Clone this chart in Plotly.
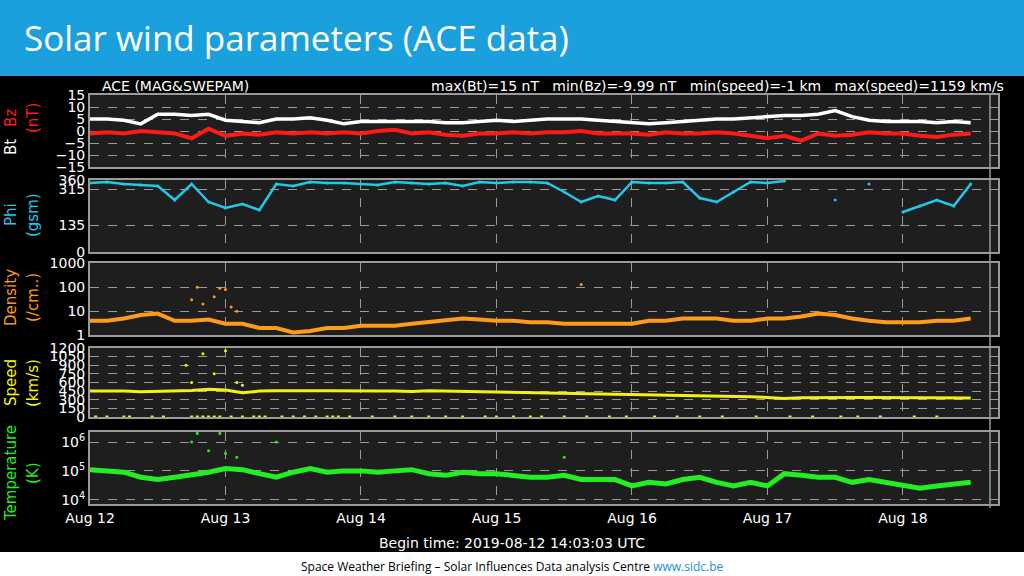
import pandas as pd
import plotly.graph_objects as go
from plotly.subplots import make_subplots

# 3-hourly samples, Aug 12 00:00 -> Aug 18 12:00
times = pd.date_range("2019-08-12 00:00", "2019-08-18 12:00", freq="3h")

bt = [5, 5, 4.5, 3, 7, 7, 6.5, 7, 4.5, 4, 3.5, 5, 5, 5.5, 4.5, 3, 4, 4, 4, 4, 4, 3.5, 3.5, 4,
      4.5, 4, 4.5, 5, 5, 5, 4.5, 4, 3.5, 3, 3.5, 4, 4.5, 5, 5, 5.5, 6, 6.5, 6.5, 7, 8.5, 6,
      4.5, 4, 4, 4, 3.5, 4, 3.5]
bz = [-1, -0.5, -1, 0, -0.5, -1, -3, 1, -2, -1, -1.5, -0.5, -1, -0.5, -1, -0.5, -1, 0, 0.5,
      -1, -0.5, -1.5, -2, -1, -1, -0.5, -1, -0.5, -0.5, 0, -1, -1, -1, -1.5, -0.5, -1, -1,
      -0.5, -1, -2, -3, -2, -4, -1, -2, -1.5, -0.5, -1, -1, -2, -2.5, -1.5, -1]
phi = [345, 350, 340, 335, 330, 260, 340, 250, 220, 240, 210, 340, 330, 350, 345, 345, 340,
       335, 350, 345, 340, 345, 330, 350, 345, 350, 350, 345, 300, 250, 280, 260, 350, 345,
       345, 350, 270, 250, 300, 350, 345, 355, None, None, 260, None, 340, None, 200, 230,
       260, 230, 340]
density = [4, 4, 5, 7, 8, 4, 4, 4.5, 3, 3, 2, 2, 1.3, 1.5, 2, 2, 2.5, 2.5, 2.5, 3, 3.5, 4, 5,
           4.5, 4, 4, 3.5, 3.5, 3, 3, 3, 3, 3, 4, 4, 5, 5, 5, 4, 4, 5, 5, 6, 8, 7, 5, 4, 3.5,
           3.5, 3.5, 4, 4, 5]
speed = [450, 455, 450, 440, 445, 450, 460, 480, 470, 420, 450, 455, 450, 455, 455, 450, 445,
         450, 450, 445, 455, 450, 440, 430, 430, 425, 420, 415, 410, 410, 400, 395, 395, 390,
         380, 370, 365, 360, 355, 350, 340, 320, 335, 340, 345, 340, 340, 340, 340, 335, 335,
         330, 330]
temperature = [1.1e5, 1.0e5, 9e4, 6e4, 5e4, 6e4, 7e4, 9e4, 1.2e5, 1.1e5, 8e4, 6e4, 9e4, 1.2e5,
               9e4, 1.0e5, 1.0e5, 9e4, 1.0e5, 1.1e5, 8e4, 7e4, 9e4, 8e4, 8e4, 7e4, 6e4, 6e4,
               7e4, 5e4, 5e4, 5e4, 3e4, 4e4, 3.5e4, 5e4, 6e4, 4e4, 3e4, 4e4, 3e4, 8e4, 7e4,
               6e4, 6e4, 4e4, 5e4, 4e4, 3e4, 2.5e4, 3e4, 3.5e4, 4e4]

# scattered outliers (hours after Aug 12 00:00)
dens_out_h = [18, 19, 20, 22, 23, 24, 25, 26, 87]
dens_out_v = [30, 100, 20, 40, 90, 80, 15, 10, 130]
speed_out_h = [17, 18, 20, 22, 24, 26, 27]
speed_out_v = [900, 600, 1100, 750, 1150, 600, 550]
speed_zero_h = [1, 3, 6, 7, 11, 13, 18, 19, 20, 21, 22, 23, 25, 27, 29, 30, 31, 34, 36, 38, 40,
                42, 43, 44, 46, 50, 54, 57, 60, 63, 66, 70, 72, 75, 78, 80, 84, 88, 92, 95, 100,
                104, 108, 112, 118, 124, 128, 133, 136, 140, 146, 150]
temp_out_h = [18, 19, 21, 23, 24, 26, 33, 84]
temp_out_v = [1e6, 2e6, 5e5, 2e6, 4e5, 3e5, 1e6, 3e5]

t0 = pd.Timestamp("2019-08-12")
def hrs(h):
    return [t0 + pd.Timedelta(hours=x) for x in h]

fig = make_subplots(rows=5, cols=1, shared_xaxes=True)
mk = dict(size=3)
fig.add_trace(go.Scatter(x=times, y=bt, mode="lines", line=dict(color="white", width=3.5)), 1, 1)
fig.add_trace(go.Scatter(x=times, y=bz, mode="lines", line=dict(color="#ff1a1a", width=4)), 1, 1)
fig.add_trace(go.Scatter(x=times, y=phi, mode="lines+markers", line=dict(color="#22c8e8", width=2.5),
                         marker=dict(size=3, color="#22c8e8"), connectgaps=False), 2, 1)
fig.add_trace(go.Scatter(x=times, y=density, mode="lines", line=dict(color="#ff9a1a", width=4)), 3, 1)
fig.add_trace(go.Scatter(x=hrs(dens_out_h), y=dens_out_v, mode="markers", marker=dict(mk, color="#ff9a1a")), 3, 1)
fig.add_trace(go.Scatter(x=times, y=speed, mode="lines", line=dict(color="#f2f21a", width=3)), 4, 1)
fig.add_trace(go.Scatter(x=hrs(speed_out_h), y=speed_out_v, mode="markers", marker=dict(mk, color="#f2f21a")), 4, 1)
fig.add_trace(go.Scatter(x=hrs(speed_zero_h), y=[0] * len(speed_zero_h), mode="markers",
                         marker=dict(size=3, symbol="square", color="#f2f21a")), 4, 1)
fig.add_trace(go.Scatter(x=times, y=temperature, mode="lines", line=dict(color="#22ee22", width=5)), 5, 1)
fig.add_trace(go.Scatter(x=hrs(temp_out_h), y=temp_out_v, mode="markers", marker=dict(mk, color="#22ee22")), 5, 1)

font = "DejaVu Sans"
axis_style = dict(showgrid=True, gridcolor="#9a9a9a", griddash="dash", gridwidth=1, automargin=False,
                  showline=True, linecolor="#9a9a9a", linewidth=2, mirror=True, zeroline=False,
                  tickfont=dict(family=font, size=14, color="white"), ticks="")
fig.update_xaxes(domain=[0.0879, 0.9746], autorange=False,
                 range=[pd.Timestamp("2019-08-12 00:00"), pd.Timestamp("2019-08-18 16:50")],
                 dtick=86400000, tickformat="%b %d", showticklabels=False, **axis_style)
fig.update_xaxes(showticklabels=True, row=5, col=1)
domains = [[0.710, 0.835], [0.5625, 0.6875], [0.418, 0.543], [0.276, 0.396], [0.125, 0.25]]
for i, d in enumerate(domains, start=1):
    fig.update_yaxes(domain=d, row=i, col=1, **axis_style)

fig.update_yaxes(range=[-15, 15], tickvals=[-15, -10, -5, 0, 5, 10, 15], row=1, col=1)
fig.update_yaxes(range=[0, 360], tickvals=[0, 135, 315, 360], row=2, col=1)
fig.update_yaxes(type="log", range=[0, 3], tickvals=[1, 10, 100, 1000], ticktext=["1", "10", "100", "1000"], row=3, col=1)
fig.update_yaxes(range=[0, 1200], tickvals=list(range(0, 1201, 150)), row=4, col=1)
fig.update_yaxes(type="log", range=[3.85, 6.35], tickvals=[1e4, 1e5, 1e6],
                 ticktext=["10<sup>4</sup>", "10<sup>5</sup>", "10<sup>6</sup>"], row=5, col=1)

ann = []
def label(text, x, y, color, size=15):
    ann.append(dict(text=text, x=x, y=1 - y / 576, xref="paper", yref="paper", textangle=-90,
                    xanchor="center", yanchor="middle",
                    showarrow=False, font=dict(family=font, size=size, color=color)))

label("Bt", 11 / 1024, 147, "white")
label("Bz", 11 / 1024, 118, "#ff1a1a")
label("(nT)", 33 / 1024, 118, "#ff1a1a")
label("Phi", 11 / 1024, 215, "#22c8e8")
label("(gsm)", 33 / 1024, 215, "#22c8e8")
label("Density", 11 / 1024, 298, "#ff9a1a")
label("(/cm..)", 33 / 1024, 298, "#ff9a1a")
label("Speed", 11 / 1024, 383, "#f2f21a")
label("(km/s)", 33 / 1024, 383, "#f2f21a")
label("Temperature", 11 / 1024, 473, "#22ee22")
label("(K)", 33 / 1024, 473, "#22ee22")

ann += [
    dict(text="Solar wind parameters (ACE data)", x=22 / 1024, y=1 - 38 / 576, xref="paper", yref="paper",
         xanchor="left", yanchor="middle", showarrow=False, font=dict(family="Open Sans", size=35, color="white")),
    dict(text="ACE (MAG&SWEPAM)", x=100 / 1024, y=1 - 86 / 576, xref="paper", yref="paper",
         xanchor="left", yanchor="middle", showarrow=False, font=dict(family=font, size=14, color="white")),
    dict(text="max(Bt)=15 nT   min(Bz)=-9.99 nT   min(speed)=-1 km   max(speed)=1159 km/s",
         x=1006 / 1024, y=1 - 86 / 576, xref="paper", yref="paper", xanchor="right", yanchor="middle",
         showarrow=False, font=dict(family=font, size=14, color="white")),
    dict(text="Begin time: 2019-08-12 14:03:03 UTC", x=512 / 1024, y=1 - 543 / 576, xref="paper",
         yref="paper", xanchor="center", yanchor="middle", showarrow=False,
         font=dict(family=font, size=14, color="white")),
    dict(text="Space Weather Briefing – Solar Influences Data analysis Centre "
              "<span style='color:#1a8fd8'>www.sidc.be</span>",
         x=0.5, y=1 - 566 / 576, xref="paper", yref="paper", xanchor="center", yanchor="middle",
         showarrow=False, font=dict(family="Open Sans", size=12, color="black")),
]

fig.update_layout(
    width=1024, height=576, margin=dict(l=0, r=0, t=0, b=0, autoexpand=False),
    paper_bgcolor="black", plot_bgcolor="#1e1e1e", showlegend=False,
    annotations=ann,
    shapes=[
        dict(type="rect", xref="paper", yref="paper", x0=0, x1=1, y0=1 - 76 / 576, y1=1,
             fillcolor="#1aa0dc", line_width=0, layer="below"),
        dict(type="rect", xref="paper", yref="paper", x0=0, x1=1, y0=0, y1=1 - 552 / 576,
             fillcolor="white", line_width=0, layer="below"),
        dict(type="line", xref="paper", yref="paper", x0=990 / 1024, x1=990 / 1024,
             y0=1 - 508 / 576, y1=1 - 95 / 576, line=dict(color="#9a9a9a", width=1.5)),
    ],
)
fig.write_html("out.html", config={"displayModeBar": False},
               post_script="document.body.style.margin='0';")
